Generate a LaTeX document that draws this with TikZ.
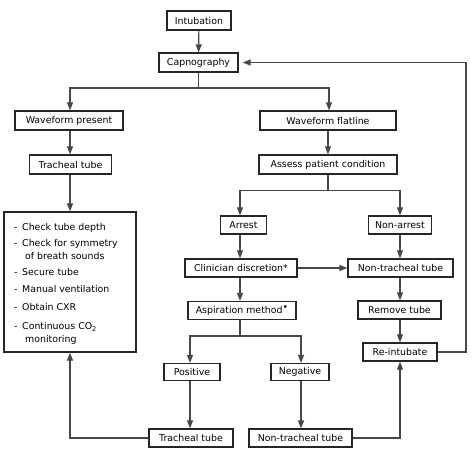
\documentclass[tikz,border=0pt]{standalone}
\usepackage{fontspec}
\setmainfont{DejaVu Sans}
\usetikzlibrary{arrows.meta}
\newcommand{\listdash}{\makebox[8pt][l]{-}}
\begin{document}
\begin{tikzpicture}[x=1pt,y=-1pt,
  font=\fontsize{9.4}{11}\selectfont,
  box/.style={draw=black!85, line width=1.3pt, fill=white, inner sep=0pt, minimum height=18pt},
  link/.style={draw=black!72, line width=1.2pt},
  arr/.style={link, -{Triangle[length=8pt,width=6pt]}},
  item/.style={anchor=mid west, inner sep=0pt}]
\useasboundingbox (0,0) rectangle (471,459);

% top of the chart
\node[box, minimum width=64pt, minimum height=19pt] (intub) at (199,20.5) {Intubation};
\node[box, minimum width=79pt, minimum height=19pt] (capno) at (198.5,62.5) {Capnography};
\node[box, minimum width=108pt, minimum height=19pt] (wpres) at (69,120.5) {Waveform present};
\node[box, minimum width=136pt, minimum height=19pt] (wflat) at (328,120.5) {Waveform flatline};

% left branch
\node[box, minimum width=82pt, minimum height=19pt] (ttl) at (70.5,164.5) {Tracheal tube};
\node[box, minimum width=132pt, minimum height=140pt] (check) at (70,282) {};
\node[item] (c1) at (14,228) {\listdash Check tube depth};
\node[item] (c2) at (14,244) {\listdash Check for symmetry};
\node[item] (c3) at (25,256.5) {of breath sounds};
\node[item] (c4) at (14,273) {\listdash Secure tube};
\node[item] (c5) at (14,290) {\listdash Manual ventilation};
\node[item] (c6) at (14,308) {\listdash Obtain CXR};
\node[item] (c7) at (14,327) {\listdash Continuous CO\textsubscript{2}};
\node[item] (c8) at (25,339.5) {monitoring};

% right branch
\node[box, minimum width=138pt, minimum height=19pt] (assess) at (328,164.5) {Assess patient condition};
\node[box, minimum width=46pt] (arrest) at (243.5,225) {Arrest};
\node[box, minimum width=63pt] (nonarr) at (400,225) {Non-arrest};
\node[box, minimum width=112pt] (clin) at (241,268) {Clinician discretion*};
\node[box, minimum width=105pt] (ntt) at (400.5,268) {Non-tracheal tube};
\node[box, minimum width=108pt] (asp) at (242,310.5) {Aspiration method\raisebox{0.45ex}{•}};
\node[box, minimum width=83pt] (remove) at (399.5,310) {Remove tube};
\node[box, minimum width=74pt] (reint) at (400,352) {Re-intubate};
\node[box, minimum width=56pt, minimum height=17pt] (pos) at (192,372) {Positive};
\node[box, minimum width=58pt, minimum height=17pt] (neg) at (300,372) {Negative};
\node[box, minimum width=84pt] (ttb) at (191,438) {Tracheal tube};
\node[box, minimum width=103pt] (nttb) at (300.5,438) {Non-tracheal tube};

% routing points
\coordinate (split1) at (198.5,88);
\coordinate (split2) at (328,190.5);
\coordinate (split3) at (240,336);
\coordinate (colA) at (240,0);
\coordinate (colL) at (70,0);
\coordinate (colR) at (400,0);
\coordinate (loop) at (466,62.5);

% connectors
\draw[arr] (intub) -- (capno);
\draw[link] (capno) -- (split1);
\draw[arr] (split1) -| (wpres.north -| colL);
\draw[arr] (split1) -| (wflat.north -| 329,0);
\draw[arr] (wpres.south -| colL) -- (ttl.north -| colL);
\draw[arr] (ttl.south -| colL) -- (check.north -| colL);
\draw[arr] (wflat) -- (assess);
\draw[link] (assess) -- (split2);
\draw[arr] (split2) -| (arrest.north -| colA);
\draw[arr] (split2) -| (nonarr.north -| colR);
\draw[arr] (arrest.south -| colA) -- (clin.north -| colA);
\draw[arr] (nonarr.south -| colR) -- (ntt.north -| colR);
\draw[arr] (clin) -- (ntt);
\draw[arr] (clin.south -| colA) -- (asp.north -| colA);
\draw[arr] (ntt.south -| colR) -- (remove.north -| colR);
\draw[arr] (remove.south -| colR) -- (reint.north -| colR);
\draw[link] (asp.south -| colA) -- (split3);
\draw[arr] (split3) -| (pos.north -| 190,0);
\draw[arr] (split3) -| (neg.north -| 301,0);
\draw[arr] (pos.south -| 190,0) -- (ttb.north -| 190,0);
\draw[arr] (neg.south -| 301,0) -- (nttb.north -| 301,0);
\draw[arr] (ttb) -| (check.south -| colL);
\draw[arr] (nttb) -| (reint.south -| colR);
\draw[arr, shorten >=4pt] (reint) -| (loop) -- (capno);
\end{tikzpicture}
\end{document}
